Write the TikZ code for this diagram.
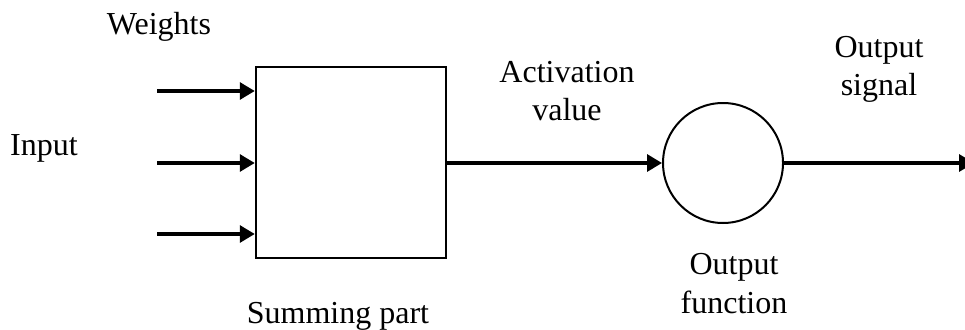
\documentclass[tikz,border=0pt]{standalone}
\usepackage{fontspec}
\setmainfont{Liberation Serif}
\usetikzlibrary{arrows.meta}
\begin{document}
\begin{tikzpicture}[x=1pt,y=-1pt,
  lbl/.style={inner sep=0pt,anchor=base,font=\fontsize{32}{38}\selectfont},
  sig/.style={line width=3.2pt,-{Triangle[length=15pt,width=17pt]}},
  unit/.style={draw,line width=2.5pt,inner sep=0pt}]
\useasboundingbox (0,0) rectangle (965,329);

% summing box and output function
\node[unit,minimum width=190pt,minimum height=191pt] (sum) at (351,162.5) {};
\node[unit,circle,line width=2pt,minimum size=120pt] (fun) at (723,163) {};

% input lines
\coordinate (i1) at (157,91);
\coordinate (i2) at (157,163);
\coordinate (i3) at (157,234);
\draw[sig] (i1) -- (i1 -| sum.west);
\draw[sig] (i2) -- (i2 -| sum.west);
\draw[sig] (i3) -- (i3 -| sum.west);

% activation and output signal
\draw[sig] (sum.east |- fun.west) -- (fun.west);
\coordinate (out) at (974,163);
\draw[sig] (fun.east) -- (out);

% labels
\node[lbl] (weights) at (159,35) {Weights};
\node[lbl] (input) at (44,155) {Input};
\node[lbl] (act1) at (567,82) {Activation};
\node[lbl] (act2) at (567,120) {value};
\node[lbl] (os1) at (879,57) {Output};
\node[lbl] (os2) at (879,95) {signal};
\node[lbl] (sp) at (338,323) {Summing part};
\node[lbl] (of1) at (734,274) {Output};
\node[lbl] (of2) at (734,313) {function};
\end{tikzpicture}
\end{document}
